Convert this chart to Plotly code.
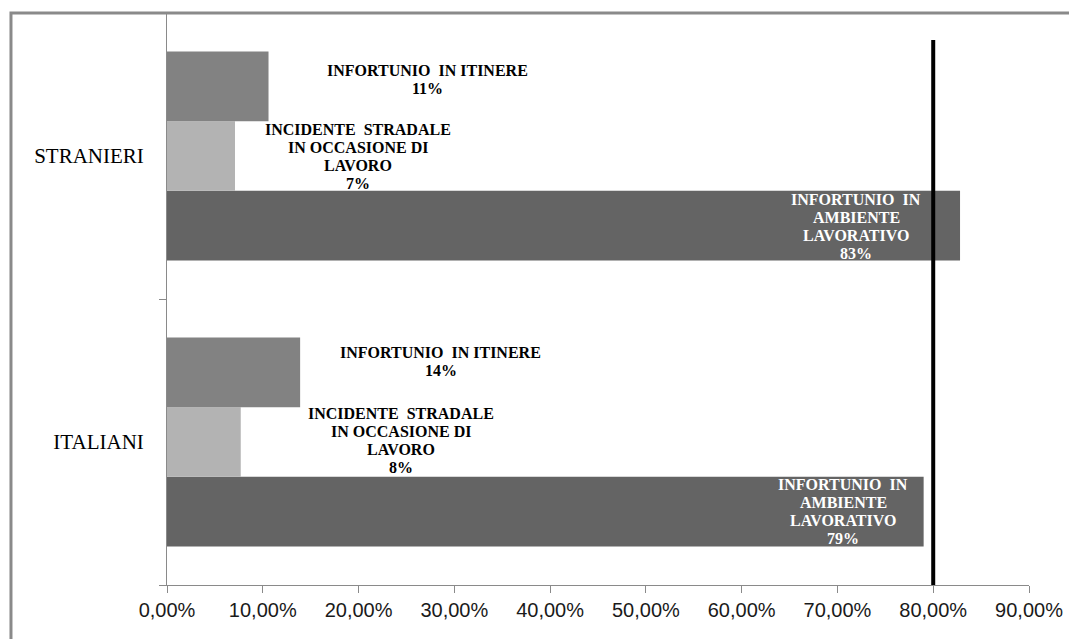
import plotly.graph_objects as go

# Share of accidents by type, foreign vs Italian workers
categories = ["ITALIANI", "STRANIERI"]
series_names = [
    "INFORTUNIO IN AMBIENTE LAVORATIVO",
    "INCIDENTE STRADALE IN OCCASIONE DI LAVORO",
    "INFORTUNIO IN ITINERE",
]
ambiente = [0.790, 0.828]
incidente = [0.077, 0.071]
itinere = [0.139, 0.106]
series_values = [ambiente, incidente, itinere]
reference_value = 0.80
tick_values = [0.0, 0.1, 0.2, 0.3, 0.4, 0.5, 0.6, 0.7, 0.8, 0.9]

# wrapped data-label text for each series
label_lines = {
    "INFORTUNIO IN AMBIENTE LAVORATIVO": ["INFORTUNIO\u00a0 IN", "AMBIENTE", "LAVORATIVO"],
    "INCIDENTE STRADALE IN OCCASIONE DI LAVORO": ["INCIDENTE\u00a0 STRADALE", "IN OCCASIONE DI", "LAVORO"],
    "INFORTUNIO IN ITINERE": ["INFORTUNIO\u00a0 IN ITINERE"],
}

# styling
colors = ["#646464", "#b3b3b3", "#828282"]
label_colors = ["white", "black", "black"]
# label placement: (x centre in axis units, pixel shift of first line from category centre)
label_pos = {
    ("STRANIERI", 0): (0.7194, -43.5),
    ("STRANIERI", 1): (0.1994, 26.5),
    ("STRANIERI", 2): (0.2725, 85.5),
    ("ITALIANI", 0): (0.7060, -42.5),
    ("ITALIANI", 1): (0.2440, 28.5),
    ("ITALIANI", 2): (0.2860, 89.5),
}
line_step = 18

fig = go.Figure()
for name, vals, col in zip(series_names, series_values, colors):
    fig.add_trace(go.Bar(
        y=categories, x=vals, name=name, orientation="h",
        marker=dict(color=col, line=dict(width=0)),
        hoverinfo="skip",
    ))

annotations = []
for si, (name, vals) in enumerate(zip(series_names, series_values)):
    for cat, v in zip(categories, vals):
        xc, shift0 = label_pos[(cat, si)]
        lines = label_lines[name] + [f"{round(v * 100)}%"]
        for li, txt in enumerate(lines):
            annotations.append(dict(
                x=xc, y=cat, xref="x", yref="y",
                yshift=shift0 - li * line_step,
                text=f"<b>{txt}</b>", showarrow=False,
                xanchor="center", yanchor="middle",
                font=dict(family="Liberation Serif", size=16, color=label_colors[si]),
            ))

shapes = [
    # outer frame
    dict(type="rect", xref="paper", yref="paper",
         x0=-0.181, x1=1.1, y0=-0.2, y1=1.0,
         line=dict(color="#8a8a8a", width=3), fillcolor="rgba(0,0,0,0)", layer="below"),
    # reference line
    dict(type="line", xref="x", yref="paper",
         x0=reference_value, x1=reference_value, y0=0, y1=0.953,
         line=dict(color="black", width=4)),
]

fig.update_layout(
    width=1069, height=639,
    margin=dict(l=167, r=40, t=13, b=54, autoexpand=False),
    paper_bgcolor="white", plot_bgcolor="white",
    barmode="group", bargap=0.27, bargroupgap=0,
    showlegend=False,
    separators=",.",
    annotations=annotations,
    shapes=shapes,
    xaxis=dict(
        range=[0, 0.9], tickvals=tick_values, tickformat=".2%",
        automargin=False,
        showgrid=False, zeroline=False,
        showline=True, linecolor="#8a8a8a", linewidth=1,
        ticks="outside", ticklen=7, tickcolor="#8a8a8a",
        tickfont=dict(family="Liberation Sans", size=20, color="#1a1a1a"),
    ),
    yaxis=dict(
        automargin=False,
        showgrid=False, zeroline=False,
        showline=True, linecolor="#8a8a8a", linewidth=1,
        ticks="outside", ticklen=7, tickcolor="#8a8a8a",
        tickson="boundaries", ticklabelstandoff=18,
        tickfont=dict(family="Liberation Serif", size=21, color="black"),
    ),
)

fig.write_html("out.html")
